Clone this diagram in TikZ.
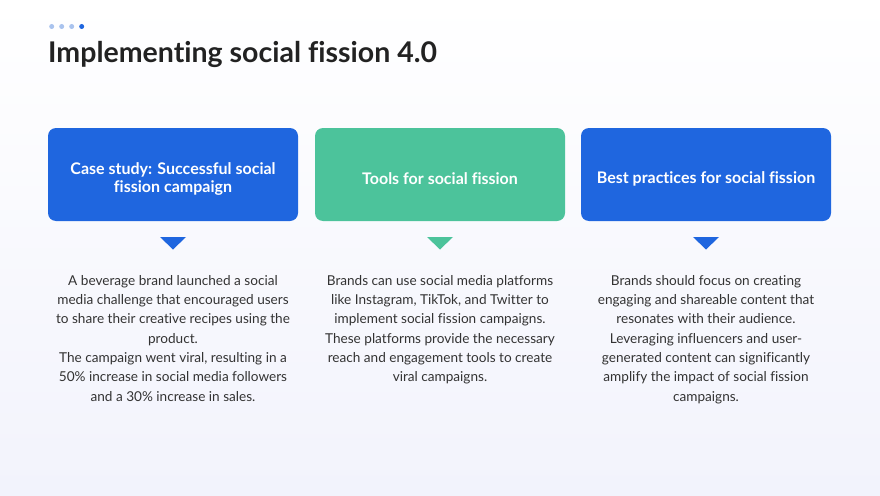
\documentclass[tikz,border=0pt]{standalone}
\usepackage{fontspec}
\setmainfont{Lato}[Ligatures=NoCommon]
\definecolor{bluebox}{HTML}{1F66DF}
\definecolor{greenbox}{HTML}{4CC39B}
\definecolor{bodytxt}{HTML}{333333}
\definecolor{titletxt}{HTML}{222222}
\definecolor{dotlight}{HTML}{A9C3EE}
\definecolor{bgbottom}{HTML}{F2F3FC}
\tikzset{
  cardbox/.style={rounded corners=8pt, draw=none},
  cardtitle/.style={text=white, font=\fontsize{16}{18}\selectfont\bfseries, align=center},
  bodytext/.style={text=bodytxt, font=\fontsize{13.6}{19.35}\selectfont, align=center, anchor=north, inner sep=0pt},
  pointer/.style={draw=none},
  dot/.style={circle, inner sep=0pt, minimum size=5pt, fill=dotlight}
}
\begin{document}
\begin{tikzpicture}[x=1pt,y=-1pt]
\useasboundingbox (0,0) rectangle (880,495);
\shade[top color=white, bottom color=bgbottom] (0,0) rectangle (880,495);
% dots
\node[dot] (d1) at (51.7,26.5) {};
\node[dot] (d2) at (61.7,26.5) {};
\node[dot] (d3) at (71.7,26.5) {};
\node[dot, fill=bluebox] (d4) at (81.7,26.5) {};
% title
\node[anchor=base west, inner sep=0pt, text=titletxt, font=\fontsize{28.5}{32}\selectfont\bfseries] (title) at (48,62.5) {Implementing social fission 4.0};
% boxes
\fill[cardbox, bluebox] (48,128) rectangle (298,221);
\fill[cardbox, greenbox] (315,128) rectangle (565,221);
\fill[cardbox, bluebox] (581,128) rectangle (831,221);
\node[cardtitle] (t1) at (173,178.5) {Case study: Successful social\\fission campaign};
\node[cardtitle] (t2) at (440,178.5) {Tools for social fission};
\node[cardtitle] (t3) at (706,178.5) {Best practices for social fission};
% pointers
\fill[pointer, bluebox] (160,237) -- (186,237) -- (173,249.5) -- cycle;
\fill[pointer, greenbox] (427,237) -- (453,237) -- (440,249.5) -- cycle;
\fill[pointer, bluebox] (693,237) -- (719,237) -- (706,249.5) -- cycle;
% body texts
\node[bodytext] (b1) at (173,275) {A beverage brand launched a social\\media challenge that encouraged users\\to share their creative recipes using the\\product.\\The campaign went viral, resulting in a\\50\% increase in social media followers\\and a 30\% increase in sales.};
\node[bodytext] (b2) at (440,275) {Brands can use social media platforms\\like Instagram, TikTok, and Twitter to\\implement social fission campaigns.\\These platforms provide the necessary\\reach and engagement tools to create\\viral campaigns.};
\node[bodytext] (b3) at (706,275) {Brands should focus on creating\\engaging and shareable content that\\resonates with their audience.\\Leveraging influencers and user-\\generated content can significantly\\amplify the impact of social fission\\campaigns.};
\end{tikzpicture}
\end{document}
